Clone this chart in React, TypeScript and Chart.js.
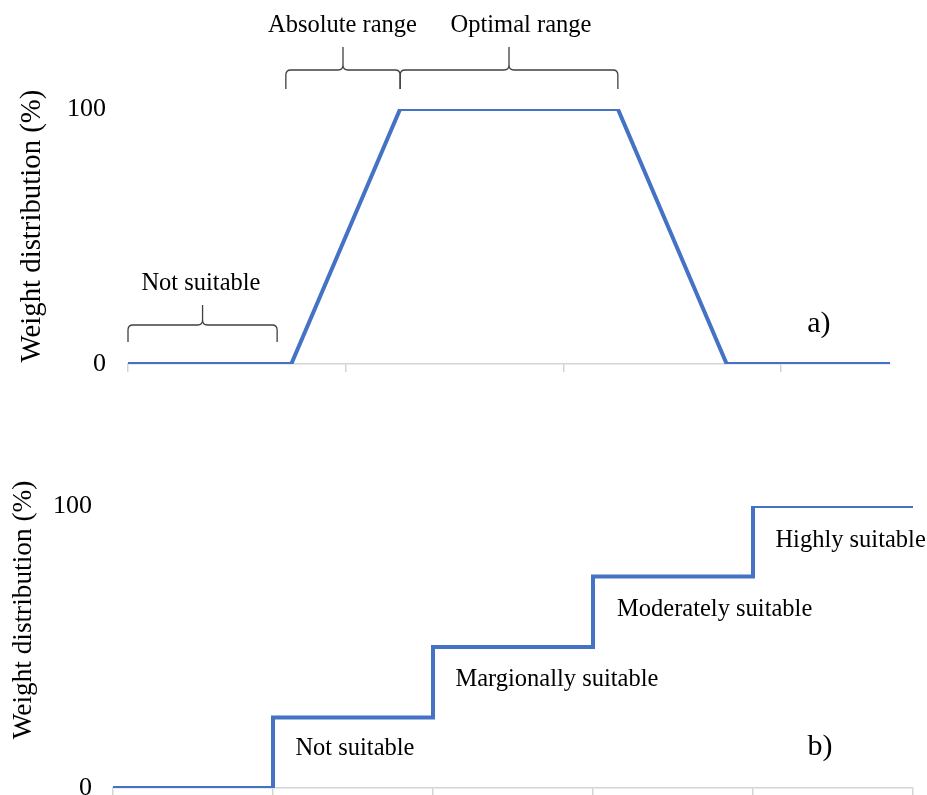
import React, { useEffect, useRef } from 'react';
import { Chart, registerables } from 'chart.js';

Chart.register(...registerables);

// ---- data ----
const suitX = [0, 1.5, 2.5, 4.5, 5.5, 7];
const suitY = [0, 0, 100, 100, 0, 0];
const classX = [0, 1, 2, 3, 4, 5];
const classY = [0, 25, 50, 75, 100, 100];
const topXTicks = [0, 2, 4, 6];
const bottomXTicks = [0, 1, 2, 3, 4, 5];
const yTicks = [0, 100];
const yTitle = 'Weight distribution (%)';
const braceLabels = ['Not suitable', 'Absolute range', 'Optimal range'];
const braceFrom = [0, 1.45, 2.5];
const braceTo = [1.37, 2.5, 4.5];
const classLabels = ['Not suitable', 'Margionally suitable', 'Moderately suitable', 'Highly suitable'];
const panelTags = ['a)', 'b)'];

// ---- annotation placement (data coordinates) ----
const braceLineY = [15.3, 115.3, 115.3];
const braceTextX = [0.67, 1.97, 3.61];
const braceTextY = [29.0, 130.2, 130.2];
const classTextX = [1.14, 2.14, 3.15, 4.14];
const classTextY = [11.7, 36.2, 61.0, 85.5];

const FONT = '"Liberation Serif", "Times New Roman", serif';
const LINE_COLOR = '#4472C4';
const AXIS_COLOR = '#d4d4d4';

function drawBrace(ctx: CanvasRenderingContext2D, x1: number, x2: number, yl: number, down: number, up: number) {
  const r = 5;
  const xm = (x1 + x2) / 2;
  ctx.beginPath();
  ctx.moveTo(x1, yl + down);
  ctx.lineTo(x1, yl + r);
  ctx.quadraticCurveTo(x1, yl, x1 + r, yl);
  ctx.lineTo(xm - r, yl);
  ctx.quadraticCurveTo(xm, yl, xm, yl - r);
  ctx.lineTo(xm, yl - up);
  ctx.moveTo(xm, yl - r);
  ctx.quadraticCurveTo(xm, yl, xm + r, yl);
  ctx.lineTo(x2 - r, yl);
  ctx.quadraticCurveTo(x2, yl, x2, yl + r);
  ctx.lineTo(x2, yl + down);
  ctx.stroke();
}

function drawYTitle(ctx: CanvasRenderingContext2D, cx: number, cy: number, size: number) {
  ctx.save();
  ctx.translate(cx, cy);
  ctx.rotate(-Math.PI / 2);
  ctx.font = `${size}px ${FONT}`;
  ctx.fillStyle = '#000';
  ctx.textAlign = 'center';
  ctx.textBaseline = 'middle';
  ctx.fillText(yTitle, 0, 0);
  ctx.restore();
}

const topNotes = {
  id: 'topNotes',
  afterDraw(chart: any) {
    const { ctx } = chart;
    const xs = chart.scales.x;
    const ys = chart.scales.y;
    ctx.save();
    ctx.strokeStyle = '#404040';
    ctx.lineWidth = 1.3;
    braceLabels.forEach((_, i) => {
      const x1 = xs.getPixelForValue(braceFrom[i]);
      const x2 = xs.getPixelForValue(braceTo[i]);
      const yl = ys.getPixelForValue(braceLineY[i]);
      drawBrace(ctx, x1, x2, yl, i === 0 ? 17 : 19, i === 0 ? 20 : 23);
    });
    ctx.fillStyle = '#000';
    ctx.font = `24.5px ${FONT}`;
    ctx.textAlign = 'center';
    ctx.textBaseline = 'alphabetic';
    braceLabels.forEach((t, i) => {
      ctx.fillText(t, xs.getPixelForValue(braceTextX[i]), ys.getPixelForValue(braceTextY[i]));
    });
    ctx.font = `30px ${FONT}`;
    ctx.textAlign = 'left';
    ctx.fillText(panelTags[0], xs.getPixelForValue(6.24), ys.getPixelForValue(12.5));
    ctx.restore();
    drawYTitle(ctx, 32, 226, 28.8);
  },
};

const bottomNotes = {
  id: 'bottomNotes',
  afterDraw(chart: any) {
    const { ctx } = chart;
    const xs = chart.scales.x;
    const ys = chart.scales.y;
    ctx.save();
    ctx.fillStyle = '#000';
    ctx.font = `24.5px ${FONT}`;
    ctx.textAlign = 'left';
    ctx.textBaseline = 'alphabetic';
    classLabels.forEach((t, i) => {
      ctx.fillText(t, xs.getPixelForValue(classTextX[i]), ys.getPixelForValue(classTextY[i]));
    });
    ctx.font = `30px ${FONT}`;
    ctx.fillText(panelTags[1], xs.getPixelForValue(4.34), ys.getPixelForValue(11.7));
    ctx.restore();
    drawYTitle(ctx, 24, 210, 27.3);
  },
};

function buildConfig(opts: {
  xs: number[]; ys: number[]; stepped: any; xMax: number; xTicks: number[];
  yWidth: number; xHeight: number; padding: any; tickPad: number; plugin: any;
}): any {
  return {
    type: 'line',
    data: {
      datasets: [
        {
          data: opts.xs.map((x, i) => ({ x, y: opts.ys[i] })),
          borderColor: LINE_COLOR,
          borderWidth: 4,
          pointRadius: 0,
          fill: false,
          tension: 0,
          stepped: opts.stepped,
          borderJoinStyle: 'miter',
        },
      ],
    },
    options: {
      responsive: false,
      animation: false,
      layout: { padding: opts.padding },
      plugins: { legend: { display: false }, tooltip: { enabled: false } },
      scales: {
        x: {
          type: 'linear',
          min: 0,
          max: opts.xMax,
          afterBuildTicks: (s: any) => { s.ticks = opts.xTicks.map((v) => ({ value: v })); },
          afterFit: (s: any) => { s.height = opts.xHeight; s.paddingLeft = 0; s.paddingRight = 0; },
          ticks: { display: false },
          grid: { display: true, drawOnChartArea: false, drawTicks: true, tickLength: 8, color: AXIS_COLOR, lineWidth: 1.5 },
          border: { display: true, color: AXIS_COLOR, width: 1.5 },
        },
        y: {
          type: 'linear',
          min: 0,
          max: 100,
          afterBuildTicks: (s: any) => { s.ticks = yTicks.map((v) => ({ value: v })); },
          afterFit: (s: any) => { s.width = opts.yWidth; s.paddingTop = 0; s.paddingBottom = 0; },
          ticks: { color: '#000', font: { family: FONT, size: 26 }, padding: opts.tickPad },
          grid: { display: false, drawTicks: false },
          border: { display: false },
        },
      },
    },
    plugins: [opts.plugin],
  };
}

export default function App() {
  const topRef = useRef<HTMLCanvasElement | null>(null);
  const botRef = useRef<HTMLCanvasElement | null>(null);

  useEffect(() => {
    const top = new Chart(topRef.current as HTMLCanvasElement, buildConfig({
      xs: suitX, ys: suitY, stepped: false, xMax: 7, xTicks: topXTicks,
      yWidth: 128, xHeight: 36, padding: { left: 0, right: 37, top: 109, bottom: 0 }, tickPad: 22, plugin: topNotes,
    }));
    const bot = new Chart(botRef.current as HTMLCanvasElement, buildConfig({
      xs: classX, ys: classY, stepped: 'before', xMax: 5, xTicks: bottomXTicks,
      yWidth: 113, xHeight: 12, padding: { left: 0, right: 14, top: 106, bottom: 0 }, tickPad: 21, plugin: bottomNotes,
    }));
    return () => { top.destroy(); bot.destroy(); };
  }, []);

  return (
    <div style={{ position: 'absolute', left: 0, top: 0, width: 927, height: 795, overflow: 'hidden', background: '#fff' }}>
      <canvas ref={topRef} width={927} height={400} style={{ position: 'absolute', left: 0, top: 0, display: 'block' }} />
      <canvas ref={botRef} width={927} height={400} style={{ position: 'absolute', left: 0, top: 400, display: 'block' }} />
    </div>
  );
}
